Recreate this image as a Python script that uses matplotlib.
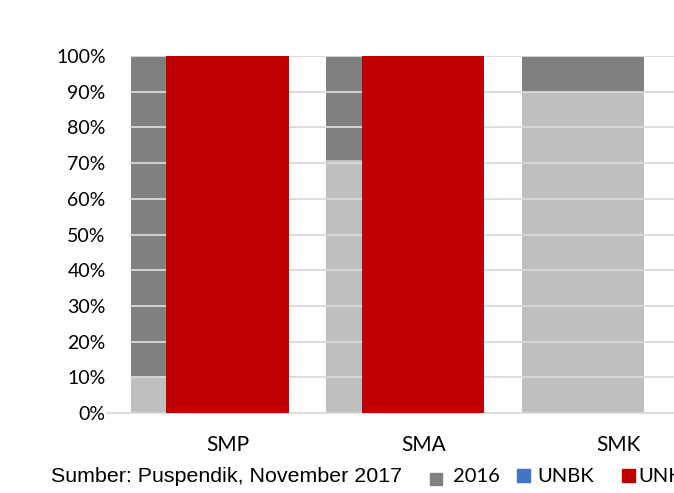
import numpy as np
import matplotlib
matplotlib.use('Agg')
from matplotlib import pyplot as plt
from matplotlib.patches import Rectangle

categories = ['SMP', 'SMA', 'SMK']
light_2016 = [10, 71, 90]
dark_2016 = [90, 29, 10]
unkp = [100, 100, 0]
unbk = [0, 0, 0]
yticks = [0, 10, 20, 30, 40, 50, 60, 70, 80, 90, 100]
source = 'Sumber: Puspendik, November 2017'
legend_labels = ['2016', 'UNBK', 'UNKP']

DARK = '#808080'
LIGHT = '#BFBFBF'
RED = '#C00000'
BLUE = '#4472C4'
GRID = '#D9D9D9'
LABEL_FONT = ['Lato', 'DejaVu Sans']


def main():
    W, H = 674, 493
    fig = plt.figure(figsize=(W / 100, H / 100), dpi=100)

    left_px, right_px = 107, 674
    top_px, bottom_px = 56, 413
    ax = fig.add_axes([left_px / W, 1 - bottom_px / H,
                       (right_px - left_px) / W, (bottom_px - top_px) / H])

    unit = 195.6
    grey_w = 122 / unit
    red_w = 122.3 / unit
    offset = 35.9 / unit
    grey_center_px = 130.7 + 61
    ax.set_xlim(-(grey_center_px - left_px) / unit, (right_px - grey_center_px) / unit)
    ax.set_ylim(0, 100)

    x = np.arange(len(categories))
    ax.bar(x, light_2016, width=grey_w, color=LIGHT, zorder=1)
    ax.bar(x, dark_2016, bottom=light_2016, width=grey_w, color=DARK, zorder=1)
    ax.bar(x + offset, unbk, width=red_w, color=BLUE, zorder=3)
    ax.bar(x + offset, unkp, width=red_w, color=RED, zorder=3)

    gx0 = (130.7 - left_px) / (right_px - left_px)
    for t in yticks[1:]:
        ax.axhline(t, xmin=gx0, xmax=1, color=GRID, lw=1.3, zorder=2)

    for s in ['top', 'right', 'left']:
        ax.spines[s].set_visible(False)
    ax.spines['bottom'].set_color(GRID)
    ax.spines['bottom'].set_linewidth(1.3)

    ax.set_yticks(yticks)
    ax.set_yticklabels(['%d%%' % t for t in yticks], family=LABEL_FONT, fontsize=14)
    ax.set_xticks(x + offset)
    ax.set_xticklabels(categories, family=LABEL_FONT, fontsize=15)
    ax.tick_params(axis='y', length=0, pad=1, colors='#000000')
    ax.tick_params(axis='x', length=0, pad=16, colors='#000000')

    # legend row at the bottom (cut off on the right like the original)
    fig.text(51 / W, 1 - 477 / H, source, family=['Liberation Sans', 'DejaVu Sans'],
             fontsize=15.4, va='center', ha='left')
    squares = [(430, 473, 12, DARK), (517, 469, 13, BLUE), (622, 469, 13, RED)]
    text_x = [453, 537, 638]
    for (sx, sy, sz, c), tx, lab in zip(squares, text_x, legend_labels):
        fig.patches.append(Rectangle((sx / W, 1 - (sy + sz) / H), sz / W, sz / H,
                                     transform=fig.transFigure, color=c, figure=fig))
        fig.text(tx / W, 1 - 476 / H, lab, family=LABEL_FONT, fontsize=14.5,
                 va='center', ha='left')

    fig.savefig('out.png', dpi=100)


if __name__ == '__main__':
    main()
